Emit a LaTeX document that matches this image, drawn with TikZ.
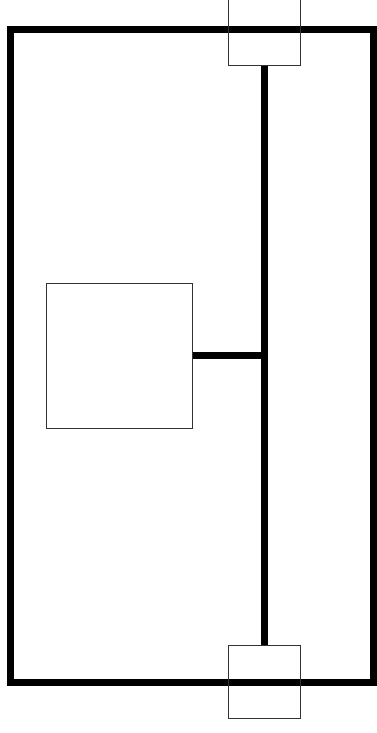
\documentclass[tikz,border=0pt]{standalone}
\usepackage{tikz}
\usetikzlibrary{calc}
\definecolor{ink}{HTML}{000000}
\definecolor{edge}{HTML}{333333}
\tikzset{
  frame/.style={draw=ink, line width=7pt, line join=miter},
  bus/.style={draw=ink, line width=7pt},
  port/.style={draw=edge, line width=1pt, minimum width=72pt, minimum height=66pt, inner sep=0pt},
  unit/.style={draw=edge, line width=1pt, minimum width=146pt, minimum height=145pt, inner sep=0pt}
}
\begin{document}
\begin{tikzpicture}[x=1pt,y=-1pt]
  \useasboundingbox (0,0) rectangle (376,733);

  \draw[frame] (10.5,30) rectangle (373,682);

  \node[port] (top) at (264,33) {};
  \node[port, minimum height=73pt] (bot) at (264,682) {};
  \node[unit] (box) at (119,355.5) {};

  \coordinate (tap) at (top.south |- box.east);

  \draw[bus] (top.south) -- (bot.north);
  \draw[bus] (box.east) -- (tap);
\end{tikzpicture}
\end{document}
